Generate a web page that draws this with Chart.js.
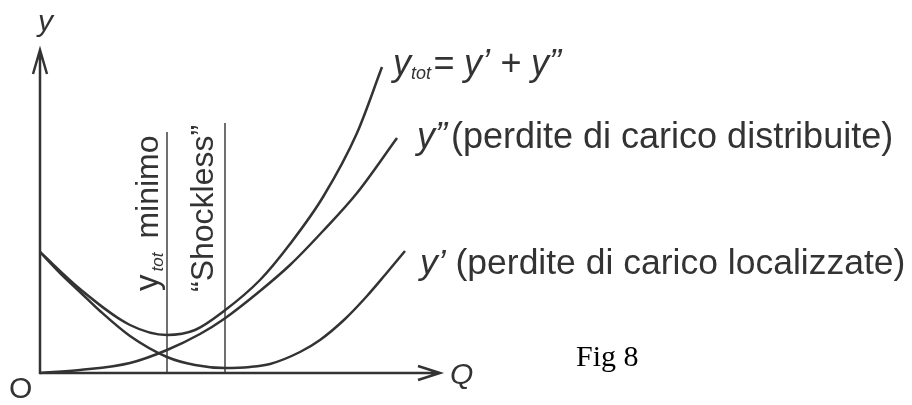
<!DOCTYPE html>
<html>
<head>
<meta charset="utf-8">
<script src="https://cdn.jsdelivr.net/npm/chart.js@4.4.1/dist/chart.umd.min.js"></script>
<style>
  html, body { margin: 0; padding: 0; background: #fff; }
  #wrap { width: 912px; height: 405px; }
</style>
</head>
<body>
<div id="wrap"><canvas id="losses-chart" width="912" height="405"></canvas></div>
<script>
// y' : perdite localizzate (minimo nel punto "shockless")
const qLoc = [0, 2, 4, 6, 9, 12.7, 15.5, 18.5, 21, 23, 26, 28, 30.5, 32.7, 34.5, 36.5];
const yLoc = [12.1, 10.0, 8.1, 6.2, 3.7, 1.6, 0.8, 0.5, 0.6, 0.9, 2.1, 3.3, 5.4, 7.7, 9.8, 12.2];

// y'' : perdite distribuite
const qDist = [0, 4, 9, 12.7, 16, 18.4, 22, 25, 28.3, 31.7, 35.7];
const yDist = [0, 0.3, 1.0, 2.3, 3.9, 5.4, 8.2, 10.8, 14.2, 18.0, 23.5];

// y_tot = y' + y''
const qTot = [0, 4, 9, 12.7, 15.5, 18.4, 22, 25, 28.3, 31.7, 34.2];
const yTot = [12.1, 8.4, 4.8, 3.8, 4.3, 6.2, 9.3, 12.9, 17.6, 24.0, 30.6];

// vertical markers: y_tot minimo, "Shockless"
const markQ = [12.7, 18.5];
const markTop = [24.1, 25.0];

const INK = '#333';
const pts = (xs, ys) => xs.map((x, i) => ({ x: x, y: ys[i] }));

function curve(data) {
    return {
        data: data,
        borderColor: INK,
        borderWidth: 2.5,
        pointRadius: 0,
        cubicInterpolationMode: 'monotone',
        fill: false,
        clip: false
    };
}
function marker(i) {
    return {
        data: [{ x: markQ[i], y: 0 }, { x: markQ[i], y: markTop[i] }],
        borderColor: INK,
        borderWidth: 1.4,
        pointRadius: 0,
        tension: 0,
        clip: false
    };
}

// draw a sequence of text pieces with different fonts on one baseline
function runs(ctx, x, y, parts) {
    let cx = x;
    parts.forEach(p => {
        ctx.font = p.font;
        ctx.fillText(p.t, cx, y + (p.dy || 0));
        cx += ctx.measureText(p.t).width + (p.gap || 0);
    });
}

const SANS = '"Liberation Sans", Arial, sans-serif';

const axesAndText = {
    id: 'axesAndText',
    afterDraw(chart) {
        const ctx = chart.ctx;
        const a = chart.chartArea;
        const xs = chart.scales.x;
        ctx.save();
        ctx.strokeStyle = INK;
        ctx.lineWidth = 2.5;
        // axes with open arrowheads
        ctx.beginPath();
        ctx.moveTo(a.left, a.bottom + 1);
        ctx.lineTo(a.left, a.top);
        ctx.moveTo(a.left - 7, a.top + 24);
        ctx.lineTo(a.left, a.top);
        ctx.lineTo(a.left + 7, a.top + 24);
        ctx.moveTo(a.left - 1, a.bottom);
        ctx.lineTo(a.right, a.bottom);
        ctx.moveTo(a.right - 22, a.bottom - 7);
        ctx.lineTo(a.right, a.bottom);
        ctx.lineTo(a.right - 22, a.bottom + 7);
        ctx.stroke();

        ctx.fillStyle = INK;
        ctx.textBaseline = 'alphabetic';
        ctx.textAlign = 'left';
        ctx.font = 'italic 30px ' + SANS;
        ctx.fillText('y', a.left - 2, 31);
        ctx.fillText('Q', a.right + 10, 384);
        ctx.font = '30px ' + SANS;
        ctx.fillText('O', 9, 398);

        // curve labels
        runs(ctx, 393, 75, [
            { t: 'y', font: 'italic 36px ' + SANS },
            { t: 'tot', font: 'italic 18px ' + SANS, dy: 4, gap: 2 },
            { t: '= y’ + y”', font: 'italic 36px ' + SANS }
        ]);
        runs(ctx, 417, 148, [
            { t: 'y”', font: 'italic 36px ' + SANS, gap: 4 },
            { t: '(perdite di carico distribuite)', font: '36px ' + SANS }
        ]);
        runs(ctx, 420, 274, [
            { t: 'y’', font: 'italic 35.5px ' + SANS },
            { t: ' (perdite di carico localizzate)', font: '35.5px ' + SANS }
        ]);

        // rotated labels next to the vertical markers
        ctx.save();
        ctx.translate(xs.getPixelForValue(markQ[0]) - 9, 291);
        ctx.rotate(-Math.PI / 2);
        runs(ctx, 0, 0, [
            { t: 'y', font: '33px ' + SANS, gap: 3 },
            { t: 'tot', font: 'italic 17px ' + SANS, dy: 5, gap: 14 },
            { t: 'minimo', font: '32px ' + SANS }
        ]);
        ctx.restore();

        ctx.save();
        ctx.translate(xs.getPixelForValue(markQ[1]) - 12, 292);
        ctx.rotate(-Math.PI / 2);
        ctx.font = '32px ' + SANS;
        ctx.fillText('“Shockless”', 0, 0);
        ctx.restore();

        ctx.fillStyle = '#000';
        ctx.font = '30px "Liberation Serif", "Times New Roman", serif';
        ctx.fillText('Fig 8', 576, 366);
        ctx.restore();
    }
};

const lossChart = new Chart(document.getElementById('losses-chart'), {
    type: 'line',
    data: {
        datasets: [
            curve(pts(qTot, yTot)),
            curve(pts(qDist, yDist)),
            curve(pts(qLoc, yLoc)),
            marker(0),
            marker(1)
        ]
    },
    options: {
        responsive: false,
        animation: false,
        layout: { padding: { left: 40, right: 472, top: 50, bottom: 32 } },
        scales: {
            x: { type: 'linear', min: 0, max: 40, display: false },
            y: { min: 0, max: 32.3, display: false }
        },
        plugins: {
            legend: { display: false },
            tooltip: { enabled: false }
        }
    },
    plugins: [axesAndText]
});
</script>
</body>
</html>
